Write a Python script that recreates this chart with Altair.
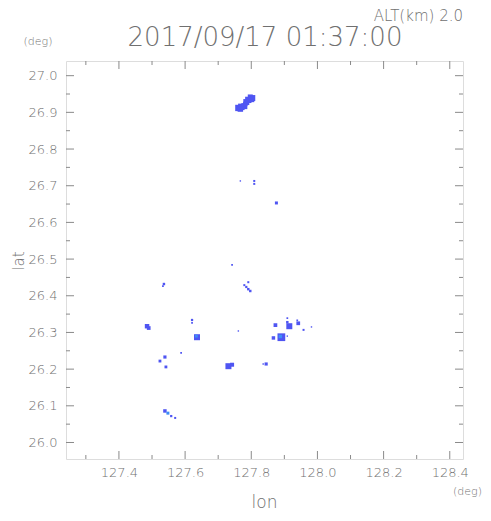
import altair as alt
import pandas as pd

# ---- data (radar echoes at ALT 2.0 km) ----
echo_lon = [127.791, 127.803, 127.797, 127.785, 127.800,
            127.761, 127.770, 127.779, 127.767, 127.782,
            127.767, 127.809, 127.809, 127.876, 127.742,
            127.536, 127.533,
            127.791, 127.779, 127.785, 127.791, 127.797,
            127.485, 127.490,
            127.621, 127.621,
            127.636, 127.634,
            127.761, 127.588,
            127.539, 127.524, 127.542,
            127.731, 127.742,
            127.845, 127.836,
            127.539, 127.548, 127.558, 127.570,
            127.873, 127.867, 127.891, 127.888, 127.909,
            127.915, 127.909, 127.909, 127.942, 127.939,
            127.958, 127.982]
echo_lat = [26.934, 26.939, 26.942, 26.928, 26.936,
            26.912, 26.915, 26.917, 26.909, 26.923,
            26.713, 26.713, 26.705, 26.653, 26.484,
            26.432, 26.426,
            26.437, 26.429, 26.424, 26.418, 26.413,
            26.317, 26.312,
            26.334, 26.326,
            26.287, 26.290,
            26.304, 26.244,
            26.233, 26.222, 26.206,
            26.208, 26.212,
            26.214, 26.214,
            26.086, 26.080, 26.072, 26.067,
            26.320, 26.285, 26.287, 26.289, 26.290,
            26.317, 26.328, 26.339, 26.325, 26.333,
            26.307, 26.315]
echo_size = [40, 36, 25, 36, 36,
             40, 42, 36, 30, 20,
             2, 4, 4, 9, 3,
             6, 3,
             4, 4, 5, 6, 6,
             20, 14,
             5, 3,
             36, 8,
             2, 3,
             10, 8, 8,
             36, 16,
             10, 2,
             12, 9, 5, 4,
             14, 12, 60, 12, 2,
             36, 6, 3, 14, 3,
             4, 2]
echo_tone = (["main"] * 27 + ["light"] + ["main"] * 10 + ["light"]
             + ["main"] * 5 + ["light"] + ["main"] * 8)

lon_domain = [127.24, 128.44]
lat_domain = [25.955, 27.04]
lon_labels = [127.4, 127.6, 127.8, 128.0, 128.2, 128.4]
lon_minor = [127.3, 127.5, 127.7, 127.9, 128.1, 128.3]
lat_labels = [26.0, 26.1, 26.2, 26.3, 26.4, 26.5, 26.6, 26.7, 26.8, 26.9, 27.0]
lat_minor = [26.05, 26.15, 26.25, 26.35, 26.45, 26.55, 26.65, 26.75, 26.85, 26.95]

title_text = "2017/09/17 01:37:00"
alt_text = "ALT(km) 2.0"

W, H = 397, 398
GRAY = "#8a8a8a"
TXT = "#707070"
FONT = "DejaVu Sans"
WEIGHT = 200

df = pd.DataFrame({"lon": echo_lon, "lat": echo_lat, "size": echo_size, "tone": echo_tone})

xs = alt.Scale(domain=lon_domain, nice=False, zero=False)
ys = alt.Scale(domain=lat_domain, nice=False, zero=False)

x_axis = alt.Axis(values=lon_labels, format=".1f", ticks=False, tickSize=0, domain=False,
                  grid=False, labelPadding=7, labelFontSize=13, labelColor=TXT,
                  labelFont=FONT, labelFontWeight=WEIGHT, labelOverlap=False,
                  labelFlush=False, title=None)
y_axis = alt.Axis(values=lat_labels, format=".1f", ticks=False, tickSize=0, domain=False,
                  grid=False, labelPadding=9, labelFontSize=13, labelColor=TXT,
                  labelFont=FONT, labelFontWeight=WEIGHT, labelOverlap=False,
                  labelFlush=False, title=None)

echoes = alt.Chart(df).mark_square(opacity=1, strokeWidth=0).encode(
    x=alt.X("lon:Q", scale=xs, axis=x_axis),
    y=alt.Y("lat:Q", scale=ys, axis=y_axis),
    size=alt.Size("size:Q", scale=None, legend=None),
    color=alt.Color("tone:N", scale=alt.Scale(domain=["main", "light"], range=["#4f55f2", "#3d8df7"]), legend=None),
)

def xticks(vals, length):
    d = pd.DataFrame({"lon": vals})
    bot = alt.Chart(d).mark_rule(color=GRAY, strokeWidth=1).encode(
        x=alt.X("lon:Q", scale=xs, axis=x_axis), y=alt.value(H), y2=alt.value(H - length))
    top = alt.Chart(d).mark_rule(color=GRAY, strokeWidth=1).encode(
        x=alt.X("lon:Q", scale=xs, axis=x_axis), y=alt.value(0), y2=alt.value(length))
    return [bot, top]

def yticks(vals, length):
    d = pd.DataFrame({"lat": vals})
    left = alt.Chart(d).mark_rule(color=GRAY, strokeWidth=1).encode(
        y=alt.Y("lat:Q", scale=ys, axis=y_axis), x=alt.value(0), x2=alt.value(length))
    right = alt.Chart(d).mark_rule(color=GRAY, strokeWidth=1).encode(
        y=alt.Y("lat:Q", scale=ys, axis=y_axis), x=alt.value(W), x2=alt.value(W - length))
    return [left, right]

def label(text, x, y, size, align="center", angle=0, baseline="middle"):
    return alt.Chart(pd.DataFrame({"t": [text]})).mark_text(
        font=FONT, fontSize=size, fontWeight=WEIGHT, color=TXT, align=align,
        baseline=baseline, angle=angle
    ).encode(text="t:N", x=alt.value(x), y=alt.value(y))

layers = [echoes]
layers += xticks(lon_labels, 8) + xticks(lon_minor, 4)
layers += yticks(lat_labels, 8) + yticks(lat_minor, 4)
layers += [
    label(title_text, W / 2 + 0.5, -23, 26),
    label(alt_text, W, -52, 15, align="right", baseline="top"),
    label("(deg)", -28, -19, 11),
    label("(deg)", W + 19, H + 33, 11, align="right"),
    label("lon", W / 2, H + 53, 17, baseline="bottom"),
    label("lat", -42, 200, 15, angle=270, baseline="alphabetic"),
]

chart = alt.layer(*layers).properties(
    width=W, height=H,
    autosize=alt.AutoSizeParams(type="none"),
    padding={"left": 58, "top": 53, "right": 20, "bottom": 54},
).configure_view(stroke=GRAY, strokeWidth=1).configure(background="white")

chart.save("out.html", embed_options={"renderer": "svg", "actions": False})
